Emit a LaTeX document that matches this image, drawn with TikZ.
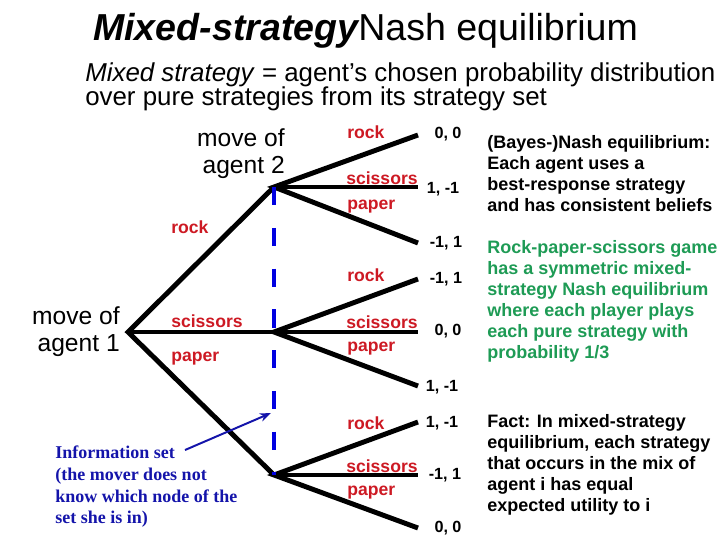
\documentclass[tikz,border=0pt]{standalone}
\usepackage{fontspec}
\setmainfont{Liberation Sans}
\newfontfamily\infofont{Liberation Serif}
\usetikzlibrary{arrows.meta}
\definecolor{actred}{RGB}{205,25,35}
\definecolor{eqgreen}{RGB}{30,155,85}
\definecolor{infoblue}{RGB}{20,20,170}
\definecolor{setblue}{RGB}{0,0,225}
\tikzset{
  move/.style   ={line width=3.5pt},
  infoset/.style={line width=3pt,setblue,dash pattern=on 13pt off 16pt},
  act/.style    ={font=\fontsize{12.5}{14}\selectfont\bfseries,text=actred,anchor=west,inner sep=0pt},
  pay/.style    ={font=\fontsize{11.5}{13}\selectfont\bfseries,inner sep=0pt},
  who/.style    ={font=\fontsize{17.5}{19.8}\selectfont,align=right,anchor=north east,inner sep=0pt},
  note/.style   ={font=\fontsize{12.8}{15}\selectfont\bfseries,align=left,anchor=north west,inner sep=0pt},
  info/.style   ={font=\fontsize{12.8}{15.4}\selectfont\infofont\bfseries,text=infoblue,align=left,anchor=north west,inner sep=0pt},
  ttl/.style    ={font=\fontsize{26.7}{30}\selectfont,anchor=base west,inner sep=0pt},
  sub/.style    ={font=\fontsize{18.4}{17.7}\selectfont,align=left,anchor=north west,inner sep=0pt},
  pointer/.style={-{Stealth[length=8pt,width=6pt]},line width=1.4pt,infoblue},
}
\begin{document}
\begin{tikzpicture}[x=0.025cm,y=-0.025cm]
  \useasboundingbox (0,0) rectangle (720,540);
  % heading
  \node[ttl] (title) at (93,40){{\bfseries\itshape Mixed-strategy}Nash equilibrium};
  \node[sub] (def) at (85,62){\textit{Mixed strategy} = agent's chosen probability distribution\\over pure strategies from its strategy set};

  % game tree
  \coordinate (r) at (128,332);
  \coordinate (a) at (274,187); \coordinate (b) at (274,332); \coordinate (c) at (274,475);
  \coordinate (a1) at (418,135); \coordinate (a2) at (418,187); \coordinate (a3) at (418,243);
  \coordinate (b1) at (418,279); \coordinate (b2) at (418,332); \coordinate (b3) at (418,386);
  \coordinate (c1) at (418,422); \coordinate (c2) at (418,475); \coordinate (c3) at (418,528);
  \draw[move] (a) -- (r) -- (c); \draw[move] (r) -- (b);
  \draw[move] (a1) -- (a) -- (a3); \draw[move] (a) -- (a2);
  \draw[move] (b1) -- (b) -- (b3); \draw[move] (b) -- (b2);
  \draw[move] (c1) -- (c) -- (c3); \draw[move] (c) -- (c2);
  \draw[infoset] (a) -- (c);

  \node[who] (who2) at (285,128){move of\\agent 2};
  \node[who] (who1) at (120,306){move of\\agent 1};

  % actions
  \node[act] (r0) at (171,227){rock}; \node[act] (s0) at (171,321){scissors}; \node[act] (p0) at (171,359){paper};
  \node[act] (ra) at (347,132){rock}; \node[act] (sa) at (346,178){scissors}; \node[act] (pa) at (347,207){paper};
  \node[act] (rb) at (347,275){rock}; \node[act] (sb) at (346,322){scissors}; \node[act] (pb) at (347,349){paper};
  \node[act] (rc) at (347,423){rock}; \node[act] (sc) at (346,466){scissors}; \node[act] (pc) at (347,493){paper};

  % payoffs
  \node[pay] (ua1) at (448,134){0, 0}; \node[pay] (ua2) at (443,189){1, -1}; \node[pay] (ua3) at (446,243){-1, 1};
  \node[pay] (ub1) at (446,279){-1, 1}; \node[pay] (ub2) at (448,331){0, 0}; \node[pay] (ub3) at (442,387){1, -1};
  \node[pay] (uc1) at (442,423){1, -1}; \node[pay] (uc2) at (445,475){-1, 1}; \node[pay] (uc3) at (448,528){0, 0};

  % remarks
  \node[note] (bne) at (487,135){(Bayes-)Nash equilibrium:\\Each agent uses a\\best-response strategy\\and has consistent beliefs};
  \node[note,text=eqgreen] (rps) at (487,240){Rock-paper-scissors game\\has a symmetric mixed-\\strategy Nash equilibrium\\where each player plays\\each pure strategy with\\probability 1/3};
  \node[note] (fact) at (487,414){Fact: In mixed-strategy\\equilibrium, each strategy\\that occurs in the mix of\\agent i has equal\\expected utility to i};

  \node[info] (inf) at (55,446){Information set\\(the mover does not\\know which node of the\\set she is in)};
  \coordinate (tail) at (185,450); \coordinate (tip) at (271,413);
  \draw[pointer] (tail) -- (tip);
\end{tikzpicture}
\end{document}
